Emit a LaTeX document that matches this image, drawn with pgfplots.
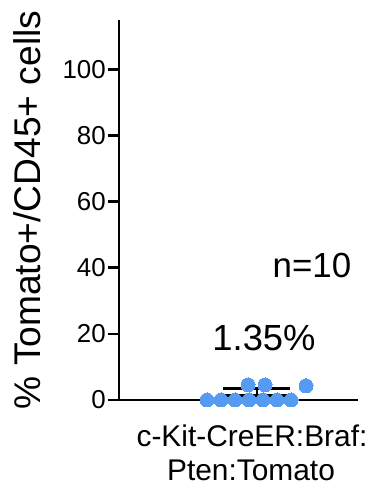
\documentclass[border=0pt]{standalone}
\usepackage{pgfplots}
\pgfplotsset{compat=1.18}
\usepackage{fontspec}
\setmainfont{Liberation Sans}
\definecolor{dotblue}{RGB}{85,155,242}
\newcommand{\tl}[1]{\mbox{\fontsize{26}{30}\selectfont #1}}
\begin{document}
\begin{tikzpicture}
\path[use as bounding box] (0,0) rectangle (379bp,493bp);
\begin{axis}[
  at={(119bp,93bp)}, anchor=south west,
  scale only axis, width=239bp, height=380bp,
  xmin=0, xmax=239, ymin=0, ymax=115,
  clip=false,
  axis x line=bottom, axis y line=left,
  axis line style={-, line width=2.8bp, black},
  xtick=\empty,
  ytick={0,20,40,60,80,100},
  yticklabels={\tl{0},\tl{20},\tl{40},\tl{60},\tl{80},\tl{100}},
  tick align=outside,
  major tick length=11bp,
  tick style={line width=2.8bp, black},
  yticklabel style={inner sep=1bp, xshift=-1bp},
  ylabel={\% Tomato+/CD45+ cells},
  ylabel style={at={(axis description cs:-0.385,0.5)}, anchor=center, rotate=0, font=\fontsize{37.3}{40}\selectfont, inner sep=0pt},
]
% mean and SD
\addplot[black, line width=2.8bp] coordinates {(104,1.35) (171,1.35)};
\addplot[black, line width=2.8bp] coordinates {(104,3.53) (171,3.53)};
\addplot[black, line width=2.8bp] coordinates {(138,1.35) (138,3.53)};
% individual values
\addplot[only marks, mark=*, mark size=7bp, color=dotblue, mark options={draw=dotblue, fill=dotblue, line width=0pt}] coordinates {
(88,0) (102,0) (116,0) (130,0) (144,0) (158,0) (172,0)
(129,4.6) (146,4.6) (187,4.3)
};
\node[anchor=base, font=\fontsize{35}{40}\selectfont, inner sep=0pt] at (axis cs:193,37.2) {n=10};
\node[anchor=base, font=\fontsize{36.5}{40}\selectfont, inner sep=0pt] at (axis cs:145,15.1) {1.35\%};
\end{axis}
\node[anchor=base, font=\fontsize{30}{34}\selectfont, inner sep=0pt] at (252bp,46bp) {c-Kit-CreER:Braf:};
\node[anchor=base, font=\fontsize{30}{34}\selectfont, inner sep=0pt] at (251bp,13bp) {Pten:Tomato};
\end{tikzpicture}
\end{document}
